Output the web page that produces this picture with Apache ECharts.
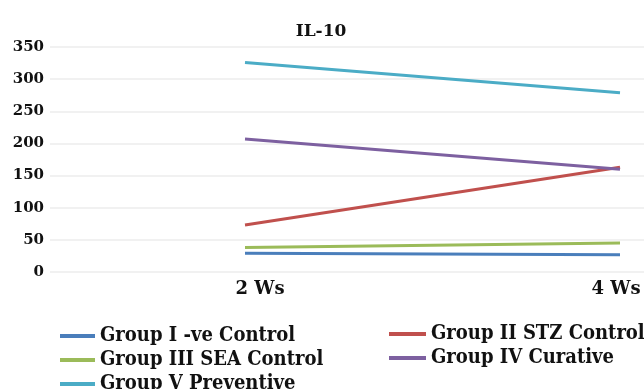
<!DOCTYPE html>
<html>
<head>
<meta charset="utf-8">
<script src="https://cdn.jsdelivr.net/npm/echarts@6/dist/echarts.min.js"></script>
<style>
html,body{margin:0;padding:0;background:#fff;}
#chart{width:644px;height:389px;}
</style>
</head>
<body>
<div id="chart"></div>
<script>
var weekLabels = ['2 Ws', '4 Ws'];
var weekValues = [2, 4];
var seriesNames = ['Group I -ve Control', 'Group II STZ Control', 'Group III SEA Control', 'Group IV Curative', 'Group V Preventive'];
var group1 = [29, 27];
var group2 = [73, 163];
var group3 = [38, 45];
var group4 = [207, 160];
var group5 = [326, 279];
var yTicks = [0, 50, 100, 150, 200, 250, 300, 350];
var colors = ['#4a7ebb', '#c0504d', '#9bbb59', '#7d60a0', '#4bacc6'];

var allValues = [group1, group2, group3, group4, group5];
var series = seriesNames.map(function (name, i) {
  return {
    name: name,
    type: 'line',
    showSymbol: false,
    symbol: 'none',
    lineStyle: { width: 3, color: colors[i] },
    itemStyle: { color: colors[i] },
    data: weekValues.map(function (x, j) { return [x, allValues[i][j]]; })
  };
});

var serif = '"DejaVu Serif", serif';
var legendFont = '"DejaVu Serif Condensed", "Liberation Serif", serif';

function legendBlock(names, left, top, w, width) {
  return {
    data: names,
    orient: 'vertical',
    left: left,
    top: top,
    width: width,
    height: 100,
    icon: 'rect',
    itemWidth: w,
    itemHeight: 4,
    itemGap: 4,
    padding: 0,
    textStyle: { fontFamily: legendFont, fontWeight: 'bold', fontSize: 20, lineHeight: 20, color: '#111' }
  };
}

var chart = echarts.init(document.getElementById('chart'), null, { renderer: 'canvas' });
chart.setOption({
  animation: false,
  backgroundColor: '#ffffff',
  color: colors,
  title: {
    text: 'IL-10',
    left: 316,
    top: 18,
    textAlign: 'center',
    textStyle: { fontFamily: serif, fontWeight: 'bold', fontSize: 17, color: '#111' }
  },
  grid: { left: 50, right: 0, top: 47, bottom: 117, containLabel: false },
  xAxis: {
    type: 'value',
    min: 0.96,
    max: 4.128,
    splitLine: { show: false },
    axisLine: { show: false },
    axisTick: { show: false },
    axisLabel: {
      customValues: weekValues,
      margin: 8,
      fontFamily: serif,
      fontWeight: 'bold',
      fontSize: 18,
      color: '#111',
      formatter: function (v) {
        var i = weekValues.indexOf(v);
        return i === 0 ? '{a|' + weekLabels[i] + '}' : '{b|' + weekLabels[i] + '}';
      },
      rich: {
        a: { fontFamily: serif, fontWeight: 'bold', fontSize: 18, color: '#111', padding: [0, 0, 0, 30] },
        b: { fontFamily: serif, fontWeight: 'bold', fontSize: 18, color: '#111', padding: [0, 8, 0, 0] }
      }
    }
  },
  yAxis: {
    type: 'value',
    min: yTicks[0],
    max: yTicks[yTicks.length - 1],
    interval: 50,
    axisLine: { show: false },
    axisTick: { show: false },
    splitLine: { lineStyle: { color: '#ececec', width: 1.5 } },
    axisLabel: {
      margin: 6,
      fontFamily: serif,
      fontWeight: 'bold',
      fontSize: 15,
      color: '#111'
    }
  },
  legend: [
    legendBlock([seriesNames[0], seriesNames[2], seriesNames[4]], 60, 326, 35, 300),
    legendBlock([seriesNames[1], seriesNames[3]], 389, 324, 37, 255)
  ],
  series: series
});
</script>
</body>
</html>
